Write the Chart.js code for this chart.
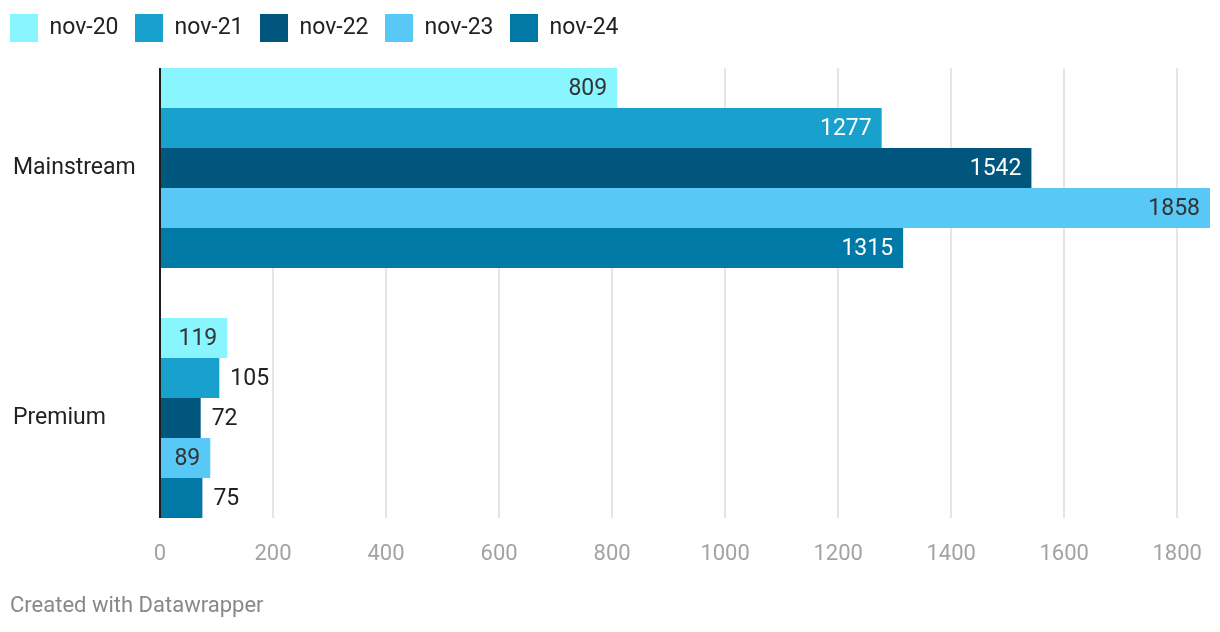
<!DOCTYPE html>
<html>
<head>
<meta charset="utf-8">
<script src="https://cdn.jsdelivr.net/npm/chart.js@4/dist/chart.umd.min.js"></script>
<style>
  html, body { margin: 0; padding: 0; background: #fff; }
  #wrap { width: 1220px; height: 632px; position: relative; }
</style>
</head>
<body>
<div id="wrap"><canvas id="chart"></canvas></div>
<script>
const categories = ['Mainstream', 'Premium'];
const seriesNames = ['nov-20', 'nov-21', 'nov-22', 'nov-23', 'nov-24'];
const nov20 = [809, 119];
const nov21 = [1277, 105];
const nov22 = [1542, 72];
const nov23 = [1858, 89];
const nov24 = [1315, 75];
const xTicks = [0, 200, 400, 600, 800, 1000, 1200, 1400, 1600, 1800];

const seriesValues = [nov20, nov21, nov22, nov23, nov24];
const seriesColors = ['#88f5ff', '#19a1cd', '#00567c', '#58c9f7', '#0079a6'];
const labelInside = ['#333333', '#ffffff', '#ffffff', '#333333', '#ffffff'];
const FONT = 'Roboto, "Noto Sans", sans-serif';

// vertical grid lines and the zero line only span the bars
const gridPlugin = {
  id: 'barGrid',
  bounds(chart) {
    const first = chart.getDatasetMeta(0).data[0];
    const last = chart.getDatasetMeta(chart.data.datasets.length - 1).data[categories.length - 1];
    return [first.y - first.height / 2, last.y + last.height / 2];
  },
  beforeDatasetsDraw(chart) {
    const {ctx, scales: {x}} = chart;
    const [top, bottom] = this.bounds(chart);
    ctx.save();
    ctx.strokeStyle = '#e5e5e5';
    ctx.lineWidth = 2;
    x.ticks.forEach(t => {
      if (t.value === 0) return;
      const px = Math.round(x.getPixelForValue(t.value));
      ctx.beginPath();
      ctx.moveTo(px, top);
      ctx.lineTo(px, bottom);
      ctx.stroke();
    });
    ctx.restore();
  },
  afterDatasetsDraw(chart) {
    const {ctx, scales: {x}} = chart;
    const [top, bottom] = this.bounds(chart);
    ctx.save();
    ctx.fillStyle = '#1d1d1d';
    ctx.fillRect(Math.round(x.getPixelForValue(0)) - 1, top, 2, bottom - top);
    ctx.restore();
  }
};

// value labels: inside the bar end when they fit, otherwise just after it
const valuePlugin = {
  id: 'values',
  afterDatasetsDraw(chart) {
    const ctx = chart.ctx;
    ctx.save();
    ctx.font = '23px ' + FONT;
    ctx.textBaseline = 'middle';
    chart.data.datasets.forEach((ds, i) => {
      chart.getDatasetMeta(i).data.forEach((bar, j) => {
        const text = String(ds.data[j]);
        const w = ctx.measureText(text).width;
        const barW = bar.x - bar.base;
        if (w + 22 < barW) {
          ctx.textAlign = 'right';
          ctx.fillStyle = labelInside[i];
          ctx.fillText(text, bar.x - 10, bar.y + 1);
        } else {
          ctx.textAlign = 'left';
          ctx.fillStyle = '#222';
          ctx.fillText(text, bar.x + 11, bar.y + 1);
        }
      });
    });
    ctx.restore();
  }
};

// nudge the legend and category labels into place
const layoutShift = {
  id: 'layoutShift',
  afterLayout(chart) {
    chart.legend.left -= 16.5;
    chart.legend.top -= 2.5;
    chart.scales.y.left += 3;
  }
};

new Chart(document.getElementById('chart'), {
  type: 'bar',
  data: {
    labels: categories,
    datasets: seriesNames.map((name, i) => ({
      label: name,
      data: seriesValues[i],
      backgroundColor: seriesColors[i],
      borderWidth: 0,
      categoryPercentage: 0.8,
      barPercentage: 1
    }))
  },
  options: {
    indexAxis: 'y',
    responsive: true,
    maintainAspectRatio: false,
    animation: false,
    layout: { padding: { left: 10, right: 10, top: 0, bottom: 0 } },
    plugins: {
      legend: {
        position: 'top',
        align: 'start',
        maxHeight: 43,
        labels: {
          boxWidth: 28,
          boxHeight: 28,
          padding: 16.5,
          color: '#222',
          font: { family: FONT, size: 23 }
        }
      },
      title: {
        display: true,
        position: 'bottom',
        align: 'start',
        text: 'Created with Datawrapper',
        color: '#888',
        font: { family: FONT, size: 22, weight: 'normal' },
        padding: { top: 20, bottom: 12.6 }
      },
      tooltip: { enabled: false }
    },
    scales: {
      x: {
        min: 0,
        max: Math.max(...seriesValues.flat()),
        grid: { display: false },
        border: { display: false },
        afterBuildTicks(scale) { scale.ticks = xTicks.map(v => ({ value: v })); },
        afterFit(scale) { scale.height = 30; },
        ticks: {
          padding: -10,
          color: '#a3a3a3',
          font: { family: FONT, size: 22 },
          callback: v => String(v)
        }
      },
      y: {
        grid: { display: false },
        border: { display: false },
        afterFit(scale) { scale.width = 150; },
        ticks: {
          crossAlign: 'far',
          color: '#222',
          font: { family: FONT, size: 23 }
        }
      }
    }
  },
  plugins: [gridPlugin, valuePlugin, layoutShift]
});
</script>
</body>
</html>
